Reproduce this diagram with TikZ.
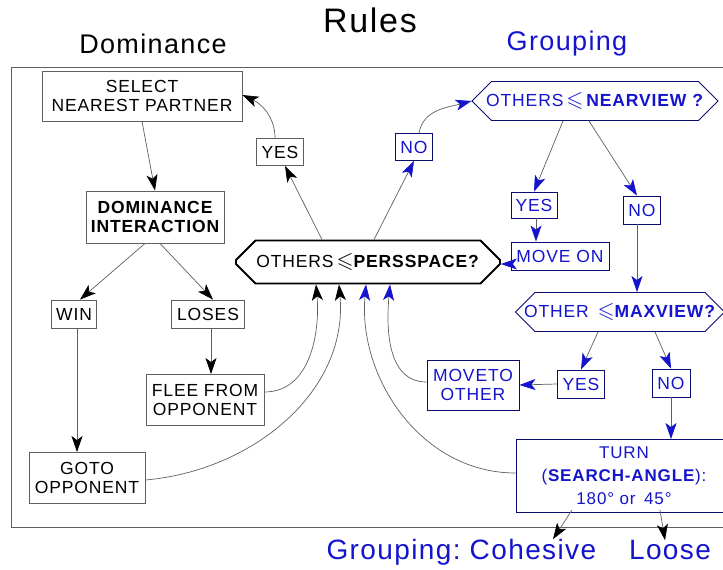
\documentclass[tikz,border=0pt]{standalone}
\usepackage{amssymb}
\usepackage{fontspec}
\setmainfont{Liberation Sans}[LetterSpace=5]
\usetikzlibrary{arrows.meta,positioning,shapes.misc}
\definecolor{grpblue}{RGB}{20,20,205}
\definecolor{linegray}{RGB}{95,95,95}
\newcommand{\bigleq}{{\fontsize{22}{22}\selectfont$\leqslant$}}

\begin{document}
\begin{tikzpicture}[
    x=1pt, y=-1pt,
    font=\fontsize{17.5}{19.5}\selectfont,
    box/.style={draw=linegray, line width=0.9pt, align=center, inner sep=1pt},
    bluebox/.style={box, draw=grpblue!55!black, text=grpblue},
    test/.style={chamfered rectangle, chamfered rectangle xsep=55pt, chamfered rectangle ysep=11pt,
                 align=center, inner sep=0pt},
    link/.style={-{Stealth[length=16pt, width=11pt, inset=4pt, color=black]}, linegray, line width=0.7pt},
    bluelink/.style={-{Stealth[length=16pt, width=11pt, inset=4pt, color=grpblue]}, linegray, line width=0.7pt},
    heading/.style={font=\fontsize{27}{30}\selectfont},
    bottomlabel/.style={text=grpblue, font=\fontsize{28}{30}\selectfont, anchor=base}
  ]
    \useasboundingbox (0,0) rectangle (723,570);
    \clip (0,0) rectangle (723,570);

    % Headings
    \node[font=\fontsize{34}{36}\selectfont] (rules) at (370,20) {Rules};
    \node[heading] (domtitle) at (153,44) {Dominance};
    \node[heading, text=grpblue] (grptitle) at (567,44) {Grouping};
    \node[bottomlabel] (cohes) at (533,559) {Cohesive};
    \node[bottomlabel, base left=2pt of cohes] (grplabel) {Grouping:};
    \node[bottomlabel] (loose) at (670,559) {Loose};

    % Frame
    \draw[line width=0.8pt, linegray] (11,67) rectangle (740,527);

    % Dominance side
    \node[box, minimum width=200pt, minimum height=50pt] (select) at (142,96) {SELECT\\NEAREST PARTNER};
    \node[box, minimum width=138pt, minimum height=52pt, font=\fontsize{17.5}{19.5}\selectfont\bfseries] (dom) at (155,217) {DOMINANCE\\INTERACTION};
    \node[box, minimum width=45pt, minimum height=28pt] (win) at (74,314) {WIN};
    \node[box, minimum width=73pt, minimum height=28pt] (loses) at (208,314) {LOSES};
    \node[box, minimum width=118pt, minimum height=51pt] (flee) at (205,400) {FLEE FROM\\OPPONENT};
    \node[box, minimum width=116pt, minimum height=51pt] (goto) at (87,478) {GOTO\\OPPONENT};
    \node[box, minimum width=47pt, minimum height=27pt] (yesd) at (280,152) {YES};

    % Central test
    \node[test, draw=black, line width=1.8pt, minimum width=264pt, minimum height=43pt] (pers) at (368,262)
      {OTHERS\,\bigleq\textbf{PERSSPACE?}};

    % Grouping side
    \node[bluebox, minimum width=37pt, minimum height=27pt] (nop) at (414,147) {NO};
    \node[test, draw=grpblue!55!black, line width=0.9pt, text=grpblue, minimum width=246pt, minimum height=38pt] (near) at (595,101)
      {OTHERS\,\bigleq\,\textbf{NEARVIEW ?}};
    \node[bluebox, minimum width=46pt, minimum height=26pt] (yesn) at (534,205) {YES};
    \node[bluebox, minimum width=37pt, minimum height=28pt] (non) at (642,210) {NO};
    \node[bluebox, minimum width=98pt, minimum height=28pt] (moveon) at (560,256) {MOVE ON};
    \node[test, draw=grpblue!55!black, line width=0.9pt, text=grpblue, minimum width=206pt, minimum height=37pt] (maxv) at (620,312)
      {OTHER\enspace\bigleq\textbf{MAXVIEW?}};
    \node[bluebox, minimum width=47pt, minimum height=28pt] (yesm) at (581,384) {YES};
    \node[bluebox, minimum width=38pt, minimum height=28pt] (nom) at (671,383) {NO};
    \node[bluebox, minimum width=92pt, minimum height=50pt] (moveto) at (473,385) {MOVETO\\OTHER};
    \node[bluebox, minimum width=216pt, minimum height=73pt, font=\fontsize{17}{23}\selectfont] (turn) at (624,476)
      {TURN\\(\textbf{SEARCH-ANGLE}):\\180\textdegree{} or\enspace 45\textdegree};

    % Dominance arrows
    \draw[link] (select.south) -- (dom.north);
    \draw[link] ([xshift=-10pt]dom.south) -- ([xshift=6pt]win.north);
    \draw[link] ([xshift=5pt]dom.south) -- ([xshift=5pt]loses.north);
    \draw[link] ([xshift=3pt]win.south) -- ([xshift=3pt]win.south |- goto.north);
    \draw[link] ([xshift=3pt]loses.south) -- ([xshift=3pt]loses.south |- flee.north);
    \draw[link] ([yshift=8pt]flee.east) to[out=0, in=-85] ([xshift=-52pt]pers.south);
    \draw[link] ([yshift=-2pt]goto.east) to[out=5, in=-85] ([xshift=-29pt]pers.south);
    \draw[link] ([xshift=-46pt]pers.north) -- ([xshift=5pt]yesd.south);
    \draw[link] ([xshift=-5pt]yesd.north) to[out=90, in=-25] ([yshift=1pt]select.east);

    % Grouping arrows
    \draw[bluelink] ([xshift=6pt]pers.north) -- (nop.south);
    \draw[bluelink] ([xshift=5pt]nop.north) to[out=80, in=195] (near.west);
    \draw[bluelink] ([xshift=-32pt]near.south) -- (yesn.north);
    \draw[bluelink] ([xshift=-6pt]near.south) -- ([xshift=-5pt]non.north);
    \draw[bluelink] ([xshift=2pt]yesn.south) -- ([xshift=2pt]yesn.south |- moveon.north);
    \draw[bluelink] ([yshift=-8pt]moveon.west) -- ([yshift=-2pt]pers.east);
    \draw[bluelink] ([xshift=-5pt]non.south) -- ([xshift=-5pt]non.south |- maxv.north);
    \draw[bluelink] ([xshift=-22pt]maxv.south) -- (yesm.north);
    \draw[bluelink] ([xshift=35pt]maxv.south) -- (nom.north);
    \draw[bluelink] (yesm.west) -- (moveto.east);
    \draw[bluelink] (nom.south) -- (nom.south |- turn.north);
    \draw[bluelink] ([yshift=3pt]moveto.west) to[out=180, in=-95] ([xshift=22pt]pers.south);
    \draw[bluelink] ([yshift=3pt]turn.west) to[out=180, in=-95] ([xshift=-2pt]pers.south);
    \draw[link] ([xshift=-52pt,yshift=3pt]turn.south) -- ([xshift=20pt,yshift=-4pt]cohes.north);
    \draw[link] ([xshift=36pt,yshift=3pt]turn.south) -- ([xshift=-5pt,yshift=-4pt]loose.north);
\end{tikzpicture}
\end{document}
